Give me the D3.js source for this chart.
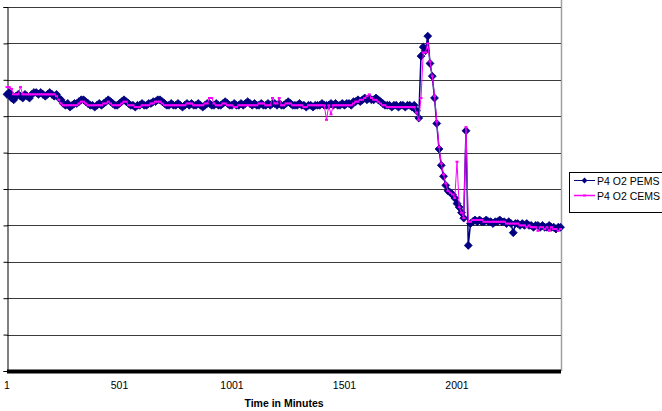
<!DOCTYPE html>
<html>
<head>
<meta charset="utf-8">
<script src="https://cdn.jsdelivr.net/npm/d3@7"></script>
<style>
  html, body { margin: 0; padding: 0; background: #fff; }
  svg { display: block; }
  text { font-family: "Liberation Sans", Arial, sans-serif; }
</style>
</head>
<body>
<svg id="chart" width="662" height="411"></svg>
<script>
// O2 readings (%), one sample every 10 minutes starting at minute 1
const sampleStep = 10;
const firstMinute = 1;

const pemsO2 = [
  15.2, 15.3, 15.0, 14.9, 15.1, 15.2, 15.1, 15.0, 15.2, 15.1,
  15.0, 15.2, 15.3, 15.3, 15.2, 15.3, 15.2, 15.1, 15.2, 15.3,
  15.2, 15.1, 15.2, 15.0, 14.9, 14.7, 14.6, 14.7, 14.5, 14.6,
  14.7, 14.7, 14.8, 14.9, 14.9, 14.8, 14.7, 14.6, 14.6, 14.5,
  14.6, 14.7, 14.6, 14.7, 14.8, 14.9, 14.8, 14.7, 14.6, 14.6,
  14.7, 14.8, 14.9, 14.8, 14.7, 14.6, 14.6, 14.5, 14.6, 14.6,
  14.7, 14.6, 14.6, 14.7, 14.7, 14.8, 14.8, 14.9, 14.9, 14.8,
  14.7, 14.6, 14.6, 14.7, 14.6, 14.6, 14.7, 14.6, 14.5, 14.6,
  14.7, 14.6, 14.7, 14.6, 14.6, 14.7, 14.6, 14.5, 14.6, 14.7,
  14.7, 14.6, 14.6, 14.7, 14.6, 14.6, 14.7, 14.8, 14.7, 14.6,
  14.6, 14.7, 14.6, 14.6, 14.7, 14.6, 14.7, 14.8, 14.7, 14.6,
  14.7, 14.6, 14.6, 14.7, 14.6, 14.6, 14.7, 14.6, 14.7, 14.7,
  14.6, 14.7, 14.6, 14.6, 14.7, 14.8, 14.7, 14.6, 14.6, 14.6,
  14.7, 14.6, 14.6, 14.5, 14.6, 14.6, 14.5, 14.6, 14.6, 14.6,
  14.7, 14.6, 14.6, 14.6, 14.7, 14.6, 14.7, 14.6, 14.6, 14.7,
  14.6, 14.7, 14.7, 14.6, 14.8, 14.8, 14.9, 14.8, 14.9, 15.0,
  14.9, 15.0, 14.9, 14.9, 15.0, 14.9, 14.8, 14.7, 14.6, 14.6,
  14.6, 14.5, 14.6, 14.6, 14.5, 14.6, 14.6, 14.5, 14.6, 14.6,
  14.5, 14.6, 14.3, 13.9, 17.3, 17.8, 17.6, 18.4, 16.9, 16.2,
  15.0, 13.6, 12.2, 11.3, 10.7, 10.2, 9.9, 9.8, 9.7, 9.5,
  9.2, 9.0, 8.7, 8.4, 13.2, 6.9, 8.1, 8.2, 8.3, 8.2,
  8.3, 8.2, 8.2, 8.3, 8.2, 8.2, 8.1, 8.2, 8.2, 8.3,
  8.2, 8.2, 8.1, 8.2, 8.1, 7.6, 8.1, 8.1, 8.0, 8.1,
  8.0, 8.1, 8.0, 8.0, 7.9, 8.0, 8.0, 7.9, 8.0, 7.9,
  7.9, 8.0, 7.9, 7.9, 7.8, 7.9, 7.9
];

const cemsO2 = [
  15.6, 15.6, 15.5, 15.2, 15.2, 15.2, 15.6, 15.2, 15.2, 15.2,
  15.2, 15.2, 15.2, 15.2, 15.2, 15.2, 15.2, 15.2, 15.2, 15.2,
  15.2, 15.2, 15.1, 14.9, 14.7, 14.6, 14.6, 14.6, 14.6, 14.6,
  14.6, 14.6, 14.7, 14.8, 14.8, 14.7, 14.6, 14.6, 14.6, 14.6,
  14.6, 14.6, 14.6, 14.7, 14.7, 14.8, 14.7, 14.6, 14.6, 14.6,
  14.6, 14.7, 14.8, 14.8, 14.6, 14.6, 14.6, 14.5, 14.5, 14.5,
  14.6, 14.6, 14.6, 14.6, 14.7, 14.7, 14.8, 14.8, 14.8, 14.7,
  14.6, 14.6, 14.6, 14.6, 14.6, 14.6, 14.6, 14.6, 14.6, 14.6,
  14.7, 14.7, 14.7, 14.6, 14.6, 14.6, 14.6, 14.6, 14.7, 14.7,
  15.0, 15.0, 14.7, 14.6, 14.6, 14.6, 14.7, 14.7, 14.6, 14.6,
  14.6, 14.5, 14.5, 14.6, 14.6, 14.6, 14.6, 14.6, 14.6, 14.6,
  14.6, 14.6, 14.7, 14.7, 14.7, 14.6, 14.6, 14.6, 15.0, 14.7,
  14.7, 15.0, 14.6, 14.6, 14.7, 14.7, 14.7, 14.6, 14.6, 14.6,
  14.6, 14.6, 14.5, 14.5, 14.6, 14.6, 14.6, 14.6, 14.6, 14.6,
  14.6, 14.6, 13.8, 14.6, 14.1, 14.6, 14.6, 14.6, 14.6, 14.6,
  14.6, 14.6, 14.6, 14.6, 14.7, 14.8, 14.8, 14.9, 14.9, 15.0,
  15.1, 15.2, 15.0, 14.9, 14.9, 14.8, 14.7, 14.6, 14.6, 14.5,
  14.5, 14.5, 14.5, 14.5, 14.5, 14.5, 14.5, 14.5, 14.5, 14.5,
  14.5, 14.5, 14.2, 13.8, 15.0, 17.5, 17.5, 18.0, 17.0, 16.2,
  15.1, 13.7, 12.3, 11.4, 10.8, 10.3, 9.9, 9.8, 9.7, 9.5,
  11.5, 9.0, 8.7, 8.4, 13.4, 8.2, 8.2, 8.3, 8.3, 8.3,
  8.3, 8.3, 8.2, 8.2, 8.2, 8.2, 8.2, 8.2, 8.2, 8.2,
  8.2, 8.2, 8.1, 8.1, 8.1, 8.1, 8.1, 8.1, 8.0, 8.0,
  8.0, 7.9, 8.0, 7.9, 7.9, 7.9, 7.7, 7.9, 7.9, 7.8,
  7.9, 7.7, 7.9, 7.8, 7.8, 7.7, 7.8
];

const xTickMinutes = [1, 501, 1001, 1501, 2001];
const xTickLabels = ["1", "501", "1001", "1501", "2001"];
const yGridValues = [2, 4, 6, 8, 10, 12, 14, 16, 18, 20];
const seriesNames = ["P4 O2 PEMS", "P4 O2 CEMS"];
const xTitle = "Time in Minutes";

const navy = "#000080";
const magenta = "#ff00ff";

const svg = d3.select("#chart");

const lastMinute = firstMinute + sampleStep * (pemsO2.length - 1);
const x = d3.scaleLinear().domain([firstMinute, lastMinute]).range([7, 560.5]);
const y = d3.scaleLinear().domain([0, 20]).range([371, 7]);

const toPoints = vals => vals.map((v, i) => ({ m: firstMinute + i * sampleStep, v }));
const pems = toPoints(pemsO2);
const cems = toPoints(cemsO2);

// plot-area right border
svg.append("line")
  .attr("x1", 561.5).attr("x2", 561.5).attr("y1", 0).attr("y2", 371)
  .attr("stroke", "#a0a0a0").attr("stroke-width", 1.5);

// horizontal gridlines
svg.append("g").selectAll("line").data(yGridValues).join("line")
  .attr("x1", 7).attr("x2", 561)
  .attr("y1", d => Math.round(y(d)) + 0.5).attr("y2", d => Math.round(y(d)) + 0.5)
  .attr("stroke", "#3a3a3a").attr("stroke-width", 1);

// left value axis: line and outward ticks, no labels
const yAxis = d3.axisLeft(y).tickValues([0].concat(yGridValues)).tickSize(4).tickFormat("");
svg.append("g")
  .attr("transform", "translate(7.5,0)")
  .call(yAxis)
  .call(g => g.select(".domain").attr("stroke", "#000"))
  .call(g => g.selectAll(".tick line").attr("stroke", "#000"));

const line = d3.line().x(d => x(d.m)).y(d => y(d.v));

// PEMS: navy line with diamond markers
svg.append("path").datum(pems)
  .attr("d", line).attr("fill", "none").attr("stroke", navy).attr("stroke-width", 1.5);
const diamond = d3.symbol().type(d3.symbolDiamond2).size(40);
svg.append("g").selectAll("path").data(pems).join("path")
  .attr("transform", d => `translate(${x(d.m)},${y(d.v)})`)
  .attr("d", diamond)
  .attr("fill", navy).attr("stroke", navy).attr("stroke-width", 0.8);

// CEMS: magenta line with small markers, drawn on top
svg.append("path").datum(cems)
  .attr("d", line).attr("fill", "none").attr("stroke", magenta).attr("stroke-width", 1);
svg.append("g").selectAll("rect").data(cems).join("rect")
  .attr("x", d => x(d.m) - 1.5).attr("y", d => y(d.v) - 1)
  .attr("width", 3).attr("height", 2)
  .attr("fill", magenta);

// heavy category axis
svg.append("line")
  .attr("x1", 7).attr("x2", 561).attr("y1", 371.5).attr("y2", 371.5)
  .attr("stroke", "#000").attr("stroke-width", 4);

// x tick labels
svg.append("g").selectAll("text").data(xTickMinutes).join("text")
  .attr("x", d => x(d)).attr("y", 389)
  .attr("text-anchor", "middle")
  .attr("font-size", "10.5px").attr("fill", "#000")
  .text((d, i) => xTickLabels[i]);

// axis title
svg.append("text")
  .attr("x", 284).attr("y", 407)
  .attr("text-anchor", "middle")
  .attr("font-size", "10.5px").attr("font-weight", "bold")
  .text(xTitle);

// legend
const legend = svg.append("g");
legend.append("rect")
  .attr("x", 569.5).attr("y", 172.5).attr("width", 100).attr("height", 40)
  .attr("fill", "#fff").attr("stroke", "#000").attr("stroke-width", 1);
const legendRows = [
  { name: seriesNames[0], color: navy, cy: 180.5, marker: "diamond" },
  { name: seriesNames[1], color: magenta, cy: 195.5, marker: "rect" }
];
legendRows.forEach(r => {
  legend.append("line")
    .attr("x1", 574).attr("x2", 595).attr("y1", r.cy).attr("y2", r.cy)
    .attr("stroke", r.color).attr("stroke-width", r.marker === "rect" ? 1.5 : 1);
  if (r.marker === "diamond") {
    legend.append("path")
      .attr("transform", `translate(584.5,${r.cy})`)
      .attr("d", d3.symbol().type(d3.symbolDiamond2).size(22))
      .attr("fill", r.color);
  } else {
    legend.append("rect")
      .attr("x", 583).attr("y", r.cy - 1).attr("width", 3).attr("height", 2)
      .attr("fill", r.color);
  }
  legend.append("text")
    .attr("x", 597).attr("y", r.cy + 4)
    .attr("font-size", "10.5px").attr("fill", "#000")
    .text(r.name);
});
</script>
</body>
</html>
